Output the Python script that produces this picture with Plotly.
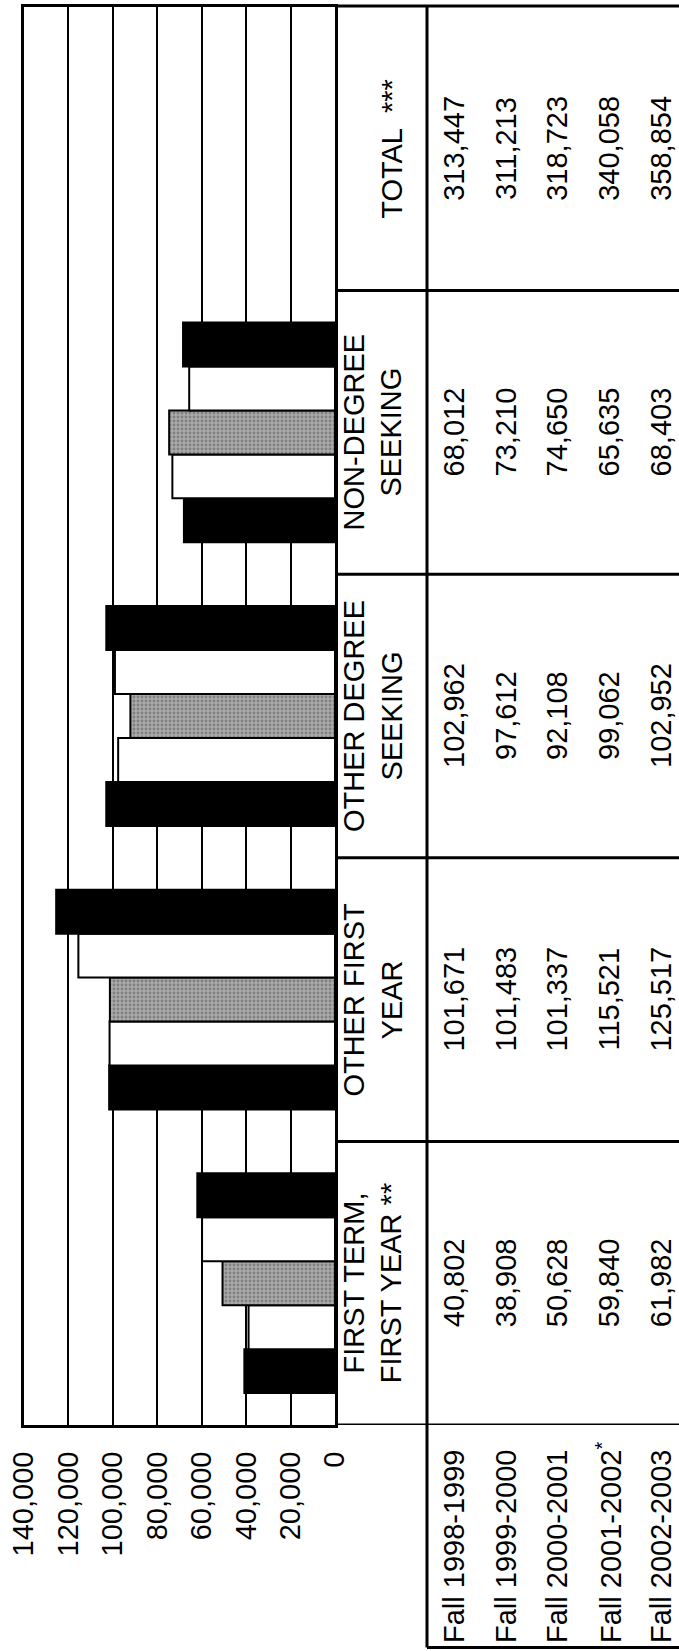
import plotly.graph_objects as go

# ---------------- data ----------------
cat_keys = ["FIRST TERM, FIRST YEAR", "OTHER FIRST YEAR", "OTHER DEGREE SEEKING",
            "NON-DEGREE SEEKING", "TOTAL"]
header_labels = ["FIRST TERM,<br>FIRST YEAR **", "OTHER FIRST<br>YEAR",
                 "OTHER DEGREE<br>SEEKING", "NON-DEGREE<br>SEEKING", "TOTAL  ***"]
years = ["Fall 1998-1999", "Fall 1999-2000", "Fall 2000-2001", "Fall 2001-2002", "Fall 2002-2003"]
year_labels = ["Fall 1998-1999", "Fall 1999-2000", "Fall 2000-2001",
               "Fall 2001-2002<sup>*</sup>", "Fall 2002-2003"]
v1998 = [40802, 101671, 102962, 68012, 313447]
v1999 = [38908, 101483, 97612, 73210, 311213]
v2000 = [50628, 101337, 92108, 74650, 318723]
v2001 = [59840, 115521, 99062, 65635, 340058]
v2002 = [61982, 125517, 102952, 68403, 358854]
series = [v1998, v1999, v2000, v2001, v2002]
tick_vals = [0, 20000, 40000, 60000, 80000, 100000, 120000, 140000]

# ---------------- layout geometry (pixels) ----------------
W, H = 679, 1651
PL, PR, PT, PB = 24, 335, 4, 1425   # plot area
FONT = "Liberation Sans, Arial, sans-serif"
FS = 29

def px_x(X):
    return (X - PL) / (PR - PL)

def px_y(Y):
    return (PB - Y) / (PB - PT)

fills = ["black", "white", "#a0a0a0", "white", "black"]

fig = go.Figure()
n_bar = 4  # TOTAL is not charted
for i, (yr, vals) in enumerate(zip(years, series)):
    marker = dict(color=fills[i], line=dict(color="black", width=2))
    if i == 2:
        marker["pattern"] = dict(shape=".", fgcolor="#555555", bgcolor="#aaaaaa",
                                 size=4, solidity=0.4)
    fig.add_trace(go.Bar(
        y=cat_keys[:n_bar], x=vals[:n_bar], name=yr, orientation="h",
        marker=marker, hoverinfo="x+name"))

fig.update_layout(
    width=W, height=H,
    margin=dict(l=PL, r=W - PR, t=PT, b=H - PB, pad=0),
    paper_bgcolor="white", plot_bgcolor="white",
    showlegend=False, barmode="group", bargap=0.225, bargroupgap=0,
    font=dict(family=FONT, size=FS, color="black"),
    xaxis=dict(range=[140000, 0], tickvals=tick_vals, tickformat=",",
               tickangle=-90, showgrid=True, gridcolor="black", gridwidth=2,
               zeroline=False, showline=True, linecolor="black", linewidth=3,
               mirror=True, ticks="", ticklabelstandoff=12,
               tickfont=dict(family=FONT, size=FS, color="black")),
    yaxis=dict(type="category", categoryorder="array", categoryarray=cat_keys,
               range=[-0.5, 4.5], showticklabels=False, showgrid=False,
               zeroline=False, showline=True, linecolor="black", linewidth=3,
               mirror=True, ticks=""),
)

shapes = []
line = dict(color="black", width=3)
# table top border
shapes.append(dict(type="line", xref="paper", yref="paper", x0=px_x(PR), x1=px_x(W + 2),
                   y0=px_y(3), y1=px_y(3), line=line))
# header column right border
shapes.append(dict(type="line", xref="paper", yref="paper", x0=px_x(427), x1=px_x(427),
                   y0=px_y(3), y1=px_y(1648), line=line))
# row dividers at category boundaries
for k in range(len(cat_keys)):
    shapes.append(dict(type="line", xref="paper", yref="y", x0=px_x(PR), x1=px_x(W + 2),
                       y0=k - 0.5, y1=k - 0.5, line=line))
# bottom border of year-label column
shapes.append(dict(type="line", xref="paper", yref="paper", x0=px_x(427), x1=px_x(W + 2),
                   y0=px_y(1648), y1=px_y(1648), line=line))

annotations = []
# category headers
for key, lab in zip(cat_keys, header_labels):
    annotations.append(dict(text=lab, xref="paper", yref="y", x=px_x(410), y=key,
                            xanchor="right", yanchor="middle", textangle=-90,
                            showarrow=False, align="center",
                            font=dict(family=FONT, size=FS, color="black")))
# year columns
col_centers = [454, 506, 557, 609, 661]
for j, (ylab, vals) in enumerate(zip(year_labels, series)):
    annotations.append(dict(text=ylab, xref="paper", yref="paper", x=px_x(col_centers[j]),
                            y=px_y(1646), xanchor="center", yanchor="bottom",
                            textangle=-90, showarrow=False,
                            font=dict(family=FONT, size=FS, color="black")))
    for key, v in zip(cat_keys, vals):
        annotations.append(dict(text=f"{v:,}", xref="paper", yref="y",
                                x=px_x(col_centers[j]), y=key,
                                xanchor="center", yanchor="middle", textangle=-90,
                                showarrow=False,
                                font=dict(family=FONT, size=FS, color="black")))

fig.update_layout(shapes=shapes, annotations=annotations)
fig.write_html("out.html", config={"displayModeBar": False},
               post_script="document.body.style.margin='0';document.body.style.overflow='hidden';")
